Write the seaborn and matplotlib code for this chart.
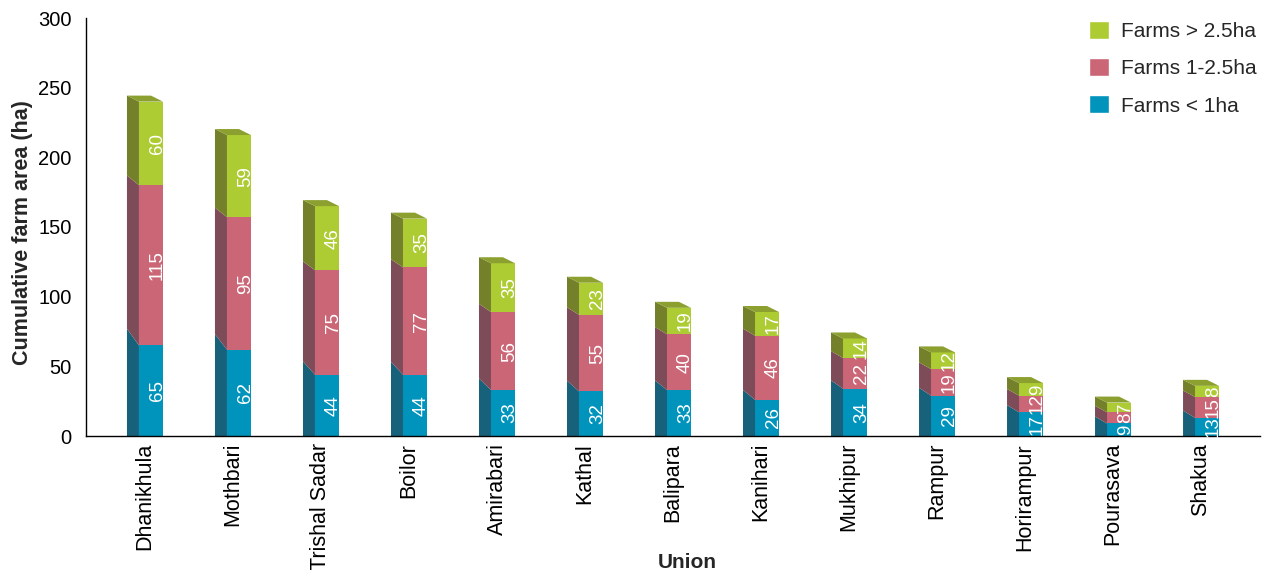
import numpy as np
import pandas as pd
import matplotlib
matplotlib.use("Agg")
import matplotlib.pyplot as plt
from matplotlib.patches import Polygon, Patch
import seaborn as sns

# Farm area per union (ha), split by farm size class
unions = ["Dhanikhula", "Mothbari", "Trishal Sadar", "Boilor", "Amirabari", "Kathal",
          "Balipara", "Kanihari", "Mukhipur", "Rampur", "Horirampur", "Pourasava", "Shakua"]
farms_small = [65, 62, 44, 44, 33, 32, 33, 26, 34, 29, 17, 9, 13]   # < 1 ha
farms_mid = [115, 95, 75, 77, 56, 55, 40, 46, 22, 19, 12, 8, 15]     # 1-2.5 ha
farms_large = [60, 59, 46, 35, 35, 23, 19, 17, 14, 12, 9, 7, 8]      # > 2.5 ha
legend_labels = ["Farms > 2.5ha", "Farms 1-2.5ha", "Farms < 1ha"]
y_ticks = [0, 50, 100, 150, 200, 250, 300]

# face colours: front, side (shaded), top
FRONT = {"large": "#ADCB33", "mid": "#CB6677", "small": "#0093BC"}
SIDE = {"large": "#75812A", "mid": "#7E4B58", "small": "#17627A"}
TOP = "#8CA030"

sns.set_theme(style="white")
plt.rcParams["font.family"] = ["Liberation Sans", "DejaVu Sans"]

df = pd.DataFrame({"union": unions, "small": farms_small,
                   "mid": farms_mid, "large": farms_large})
df["cum_small"] = df["small"]
df["cum_mid"] = df["small"] + df["mid"]
df["cum_large"] = df["cum_mid"] + df["large"]

W, H = 1264, 570
fig = plt.figure(figsize=(W / 100, H / 100), dpi=100)
ax = fig.add_axes([86 / W, 134 / H, (1260 - 86) / W, (436 - 18) / H])

FRONT_W = 24 / 88      # width of the front face (category units)
SIDE_W = 12 / 88       # depth of the side face
TOP_DY = 4.3           # rise of the top face (data units)

# front faces: cumulative stacks drawn tallest first
for col, key in [("cum_large", "large"), ("cum_mid", "mid"), ("cum_small", "small")]:
    sns.barplot(data=df, x="union", y=col, color=FRONT[key], saturation=1,
                width=FRONT_W, errorbar=None, linewidth=0, ax=ax)

for p in ax.patches:
    p.set_x(p.get_x() + SIDE_W / 2)

# side and top faces with a slight perspective
for i, row in df.iterrows():
    total = row["cum_large"]
    xf_l = i - FRONT_W / 2 + SIDE_W / 2
    xf_r = xf_l + FRONT_W
    xs_l = xf_l - SIDE_W

    def lift(v):
        return v + TOP_DY + 0.044 * (total - v)

    bounds = [(0, row["cum_small"], "small"),
              (row["cum_small"], row["cum_mid"], "mid"),
              (row["cum_mid"], row["cum_large"], "large")]
    for b, t, key in bounds:
        lb = 0 if b == 0 else lift(b)
        poly = Polygon([(xf_l, b), (xf_l, t), (xs_l, lift(t)), (xs_l, lb)],
                       closed=True, facecolor=SIDE[key], edgecolor="none", zorder=2)
        ax.add_patch(poly)
    top = Polygon([(xf_l, total), (xf_r, total), (xf_r - SIDE_W, total + TOP_DY),
                   (xs_l, total + TOP_DY)], closed=True, facecolor=TOP,
                  edgecolor="none", zorder=2)
    ax.add_patch(top)

    # value labels inside each segment
    for b, t, key in bounds:
        ax.text(xf_r + 0.035, (b + t) / 2, f"{int(round(t - b))}", rotation=90,
                ha="right", va="center", color="white", fontsize=13.5, zorder=4)

ax.set_xlim(-0.67, 12.67)
ax.set_ylim(0, 300)
ax.set_yticks(y_ticks)
ax.set_xticks(range(len(unions)))
ax.set_xticklabels(unions, rotation=90, ha="center", va="top")

for s in ["top", "right"]:
    ax.spines[s].set_visible(False)
for s in ["left", "bottom"]:
    ax.spines[s].set_color("black")
    ax.spines[s].set_linewidth(1.0)

ax.tick_params(axis="y", direction="inout", length=14, width=1, color="#555555",
               labelsize=14.5, pad=3.5, labelcolor="black")
ax.tick_params(axis="x", length=0, labelsize=15.5, pad=5, labelcolor="black")

ax.set_ylabel("Cumulative farm area (ha)", fontsize=15.5, fontweight="bold")
ax.yaxis.set_label_coords(-0.045, 0.486)
ax.set_xlabel("Union", fontsize=15, fontweight="bold", va="baseline")
ax.xaxis.set_label_coords(0.512, -(568 - 436) / 418)

handles = [Patch(facecolor=FRONT["large"]), Patch(facecolor=FRONT["mid"]),
           Patch(facecolor=FRONT["small"])]
ax.legend(handles, legend_labels, loc="upper left",
          bbox_to_anchor=(1089 / W, (H - 21) / H), bbox_transform=fig.transFigure,
          frameon=False, fontsize=15, handlelength=0.95, handleheight=0.95,
          handletextpad=0.6, labelspacing=0.82, borderpad=0, borderaxespad=0)

fig.savefig("out.png", dpi=100, facecolor="white")
